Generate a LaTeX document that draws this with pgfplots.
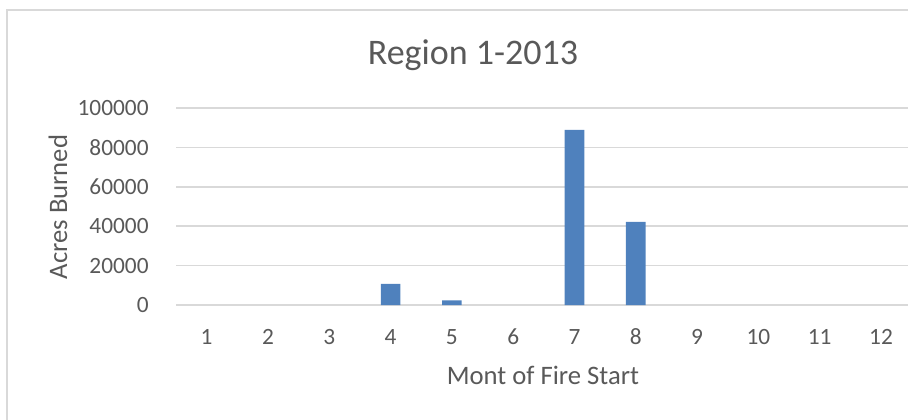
\documentclass[border=0pt]{standalone}
\usepackage{pgfplots}
\pgfplotsset{compat=1.18}
\usepackage{fontspec}
\setmainfont{Carlito}
\definecolor{barblue}{HTML}{4F81BD}
\definecolor{gridgray}{HTML}{D9D9D9}
\definecolor{txtgray}{HTML}{595959}

\begin{document}
\begin{tikzpicture}[x=0.75pt,y=0.75pt]
% laid out in reference pixels, origin at the bottom left (y = 419 - pixel row)
\useasboundingbox (0,0) rectangle (908,419);
\draw[gridgray,line width=1.2pt] (7,-15) rectangle (945,409);
\node[txtgray,font=\fontsize{27}{32}\selectfont] at (473,364) {Region 1-2013};
\node[txtgray,font=\fontsize{20}{24}\selectfont,rotate=90] at (58,212) {Acres Burned};
\node[txtgray,font=\fontsize{20}{24}\selectfont] at (543,44) {Mont of Fire Start};
\begin{axis}[
    at={(132pt,85.5pt)}, anchor=south west,
    scale only axis,
    width=549pt, height=147.75pt,
    xmin=0.5, xmax=12.44,
    ymin=0, ymax=100000,
    axis x line*=bottom, axis y line*=left,
    axis line style={draw=none},
    clip=false,
    ymajorgrids,
    grid style={gridgray,line width=1.1pt},
    xtick={1,...,12},
    ytick={0,20000,...,100000},
    major tick length=0pt,
    tick style={draw=none},
    scaled y ticks=false,
    /pgf/number format/assume math mode=true,
    yticklabel={\pgfmathprintnumber[fixed,precision=0,set thousands separator={}]{\tick}},
    ticklabel style={txtgray,font=\fontsize{17.5}{21}\selectfont},
    yticklabel style={anchor=east,xshift=-17pt},
    xticklabel style={anchor=center,yshift=-24pt},
    ybar, bar width=0.32,
    unbounded coords=discard,
]
% months with no acres burned draw no bar
\addplot[draw=none,fill=barblue,y filter/.expression={y==0 ? nan : y}] coordinates {
  (1,0) (2,0) (3,0) (4,10700) (5,2300) (6,0)
  (7,88900) (8,42200) (9,0) (10,0) (11,0) (12,0)
};
\end{axis}
\end{tikzpicture}
\end{document}
